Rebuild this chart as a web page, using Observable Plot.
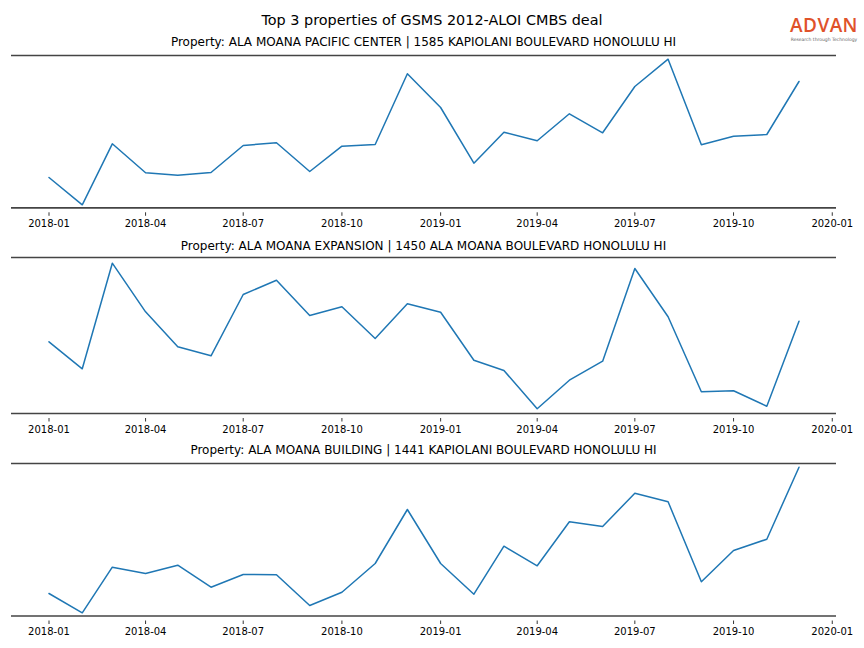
<!DOCTYPE html>
<html>
<head>
<meta charset="utf-8">
<script src="https://cdn.jsdelivr.net/npm/d3@7"></script>
<script src="https://cdn.jsdelivr.net/npm/@observablehq/plot@0.6"></script>
<style>
  html, body { margin: 0; padding: 0; background: #fff; }
  #root { position: relative; width: 864px; height: 648px; overflow: hidden; font-family: "DejaVu Sans", sans-serif; color: #000; }
  .title { position: absolute; white-space: nowrap; text-align: center; }
  .panel { position: absolute; left: 0; }
  #logo { position: absolute; left: 787px; top: 14px; width: 74px; text-align: center; }
  #logo .brand { font-family: "Open Sans", "DejaVu Sans", sans-serif; font-size: 19px; font-weight: 600; line-height: 22px; height: 22px; color: #e0522a; letter-spacing: 0.4px; }
  #logo .tag { font-size: 4.5px; line-height: 6px; color: #666; white-space: nowrap; margin-top: 1px; }
</style>
</head>
<body>
<div id="root">
  <div class="title" style="left:0;width:864px;top:11px;font-size:14.4px;line-height:18px;">Top 3 properties of GSMS 2012-ALOI CMBS deal</div>
  <div id="logo"><div class="brand">ADVAN</div><div class="tag">Research through Technology</div></div>
</div>
<script>
// ---- data ----
const months = ["2018-01","2018-02","2018-03","2018-04","2018-05","2018-06","2018-07","2018-08","2018-09","2018-10","2018-11","2018-12",
                "2019-01","2019-02","2019-03","2019-04","2019-05","2019-06","2019-07","2019-08","2019-09","2019-10","2019-11","2019-12"];
const tickLabels = ["2018-01","2018-04","2018-07","2018-10","2019-01","2019-04","2019-07","2019-10","2020-01"];
const propertyTitles = [
  "Property: ALA MOANA PACIFIC CENTER | 1585 KAPIOLANI BOULEVARD HONOLULU HI",
  "Property: ALA MOANA EXPANSION | 1450 ALA MOANA BOULEVARD HONOLULU HI",
  "Property: ALA MOANA BUILDING | 1441 KAPIOLANI BOULEVARD HONOLULU HI"
];
const pacificCenter = [30.3, 3.0, 64.0, 35.0, 32.6, 35.3, 62.3, 65.0, 36.3, 61.6, 63.3, 134.0,
                       100.3, 44.6, 75.6, 67.0, 94.0, 75.0, 121.3, 148.6, 63.0, 71.6, 73.3, 126.3];
const expansion = [71.7, 44.7, 150.3, 101.7, 66.7, 57.7, 119.0, 133.3, 98.0, 106.7, 75.0, 109.7,
                   101.3, 53.3, 43.0, 4.7, 33.3, 52.3, 145.0, 96.7, 21.7, 22.7, 7.3, 92.3];
const building = [22.5, 3.2, 48.8, 42.5, 50.8, 28.8, 41.5, 41.2, 10.5, 23.8, 52.5, 106.5,
                  52.5, 21.8, 69.8, 50.2, 94.2, 89.5, 122.8, 114.2, 34.2, 65.5, 76.8, 148.8];
const seriesList = [pacificCenter, expansion, building];
const yMaxList = [152.3, 156, 152.5];

// ---- layout (not data) ----
const layout = [
  {titleTop: 34, top: 55},
  {titleTop: 238, top: 257},
  {titleTop: 442, top: 463}
];
const mLeft = 11, mRight = 28, W = 864;

const parse = s => new Date(s + "-01T00:00:00Z");
const dates = months.map(parse);
const tickDates = tickLabels.map(parse);
const first = dates[0], last = dates[dates.length - 1];
const pad = (last - first) * 0.05;
const xDomain = [new Date(+first - pad), new Date(+last + pad)];

const root = document.getElementById("root");

seriesList.forEach((vals, i) => {
  const L = layout[i];
  const H = yMaxList[i];
  const mt = 2, gap = 5, mb = 24;
  const data = dates.map((d, j) => ({date: d, value: vals[j]}));

  const t = document.createElement("div");
  t.className = "title";
  t.style.left = mLeft + "px";
  t.style.width = (W - mLeft - mRight) + "px";
  t.style.top = L.titleTop + "px";
  t.style.fontSize = "12px";
  t.style.lineHeight = "16px";
  t.textContent = propertyTitles[i];
  root.appendChild(t);

  const svg = Plot.plot({
    width: W,
    height: mt + H + gap + mb,
    marginLeft: mLeft, marginRight: mRight, marginTop: mt, marginBottom: mb,
    style: {fontFamily: "DejaVu Sans", fontSize: "10px", background: "transparent", overflow: "visible", color: "#000"},
    x: {type: "utc", domain: xDomain},
    y: {domain: [0, H], insetBottom: gap, axis: null},
    marks: [
      Plot.ruleY([0, H], {stroke: "#444", strokeWidth: 1.7}),
      Plot.lineY(data, {x: "date", y: "value", stroke: "#1f77b4", strokeWidth: 1.5}),
      Plot.axisX({ticks: tickDates, tickFormat: d3.utcFormat("%Y-%m"), tickSize: 3.5, tickPadding: 3.5, fontSize: 10, stroke: "#000", strokeWidth: 0.8, fill: "#000"})
    ]
  });
  svg.classList.add("panel");
  svg.style.position = "absolute";
  svg.style.top = (L.top - mt) + "px";
  svg.style.left = "0px";
  root.appendChild(svg);
});
</script>
</body>
</html>
